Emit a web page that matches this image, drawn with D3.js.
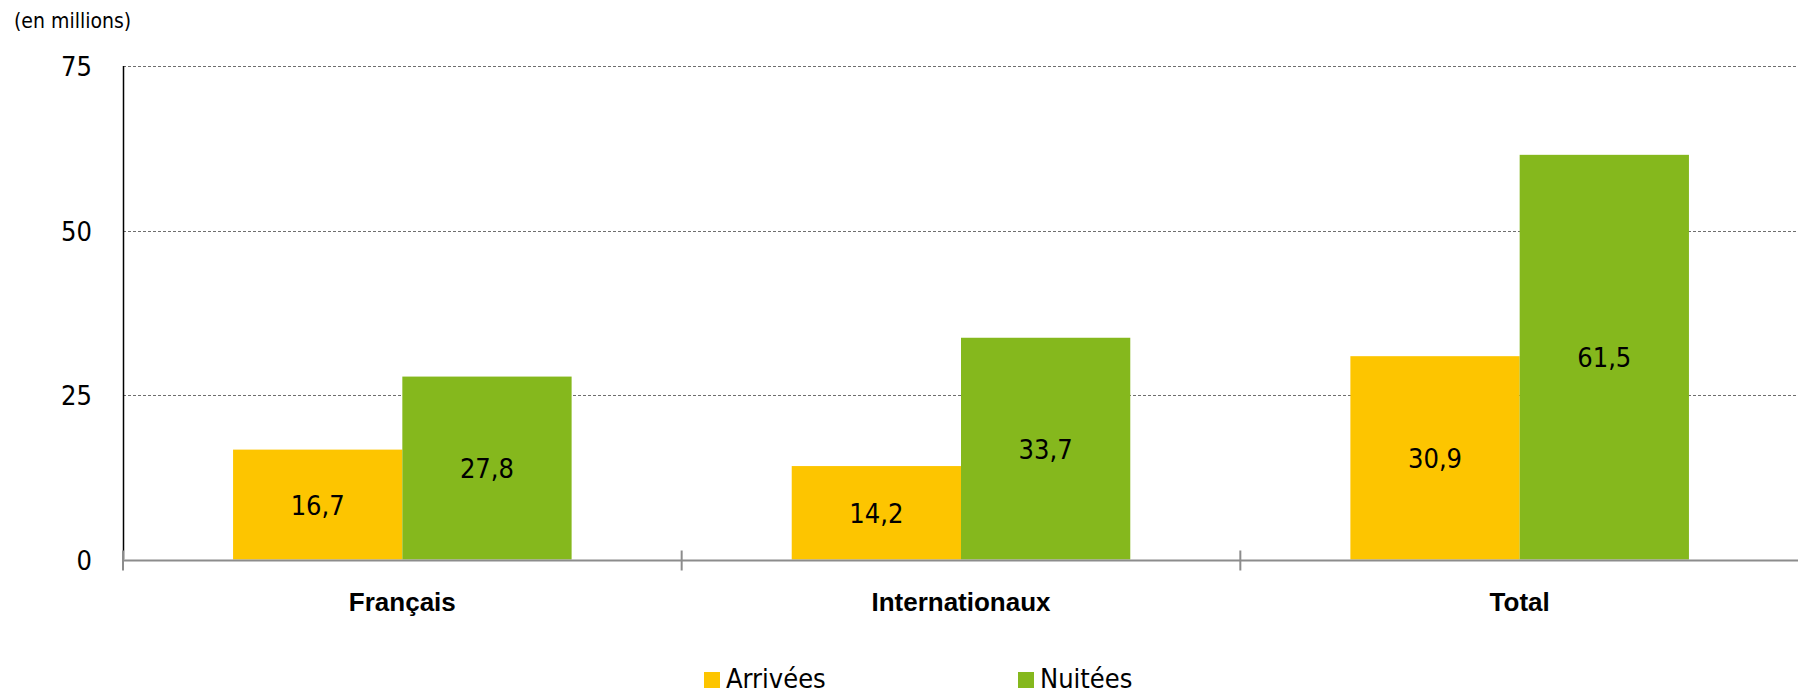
<!DOCTYPE html>
<html>
<head>
<meta charset="utf-8">
<script src="https://cdn.jsdelivr.net/npm/d3@7"></script>
<style>
  html, body { margin: 0; padding: 0; background: #fff; }
  svg { display: block; }
  text { fill: #000; }
</style>
</head>
<body>
<svg id="chart" width="1798" height="689"></svg>
<script>
const categories = ["Français", "Internationaux", "Total"];
const seriesNames = ["Arrivées", "Nuitées"];
const arrivees = [16.7, 14.2, 30.9];
const nuitees = [27.8, 33.7, 61.5];
const yTicks = [0, 25, 50, 75];
const unitLabel = "(en millions)";
const colors = ["#FDC500", "#85B81D"];

const W = 1798, H = 689;
const margin = { left: 123, right: -1, top: 66, bottom: 129 };
const svg = d3.select("#chart");
const baseFont = '"DejaVu Sans Condensed", "DejaVu Sans", sans-serif';
const catFont = '"Liberation Sans", Arial, sans-serif';

const x0 = d3.scaleBand().domain(categories).range([margin.left, W - margin.right]).paddingInner(0).paddingOuter(0);
const bw = x0.bandwidth();
const x1 = d3.scaleBand().domain(seriesNames).range([bw * 0.197, bw * 0.803]).padding(0);
const y = d3.scaleLinear().domain([0, 75]).range([H - margin.bottom - 0.5, margin.top]);

const fmt = v => d3.format(".1f")(v).replace(".", ",");

// gridlines
svg.append("g").selectAll("line").data(yTicks.filter(d => d > 0)).join("line")
  .attr("x1", margin.left).attr("x2", W)
  .attr("y1", d => Math.round(y(d)) + 0.5).attr("y2", d => Math.round(y(d)) + 0.5)
  .attr("stroke", "#6e6e6e").attr("stroke-width", 1).attr("stroke-dasharray", "3,2");

// y-axis tick labels
const yAxis = d3.axisLeft(y).tickValues(yTicks).tickSize(0).tickPadding(0).tickFormat(d3.format("d"));
const gy = svg.append("g").attr("transform", `translate(92,0)`).call(yAxis);
gy.select(".domain").remove();
gy.selectAll("text").attr("dy", null).attr("dominant-baseline", "central")
  .style("font-family", baseFont).style("font-size", "27px").attr("fill", "#000");

// bars
const data = categories.map((c, i) => ({ cat: c, vals: [arrivees[i], nuitees[i]] }));
const groups = svg.append("g").selectAll("g").data(data).join("g")
  .attr("transform", d => `translate(${x0(d.cat)},0)`);
groups.selectAll("rect").data(d => d.vals.map((v, j) => ({ v, s: seriesNames[j], j }))).join("rect")
  .attr("x", d => x1(d.s)).attr("width", x1.bandwidth())
  .attr("y", d => y(d.v)).attr("height", d => y(0) - y(d.v))
  .attr("fill", d => colors[d.j]);
groups.selectAll("text.val").data(d => d.vals.map((v, j) => ({ v, s: seriesNames[j], j }))).join("text")
  .attr("class", "val")
  .attr("x", d => x1(d.s) + x1.bandwidth() / 2)
  .attr("y", d => (y(d.v) + y(0)) / 2 + 10)
  .attr("text-anchor", "middle")
  .style("font-family", baseFont).style("font-size", "27px")
  .text(d => fmt(d.v));

// y axis line
svg.append("line").attr("x1", margin.left + 0.5).attr("x2", margin.left + 0.5)
  .attr("y1", y(75)).attr("y2", y(0)).attr("stroke", "#000").attr("stroke-width", 1.5);

// x axis
const xAxisY = y(0) + 1;
svg.append("line").attr("x1", margin.left).attr("x2", W).attr("y1", xAxisY).attr("y2", xAxisY)
  .attr("stroke", "#8c8c8c").attr("stroke-width", 2);
const boundaries = categories.map(c => x0(c)).concat([x0(categories[categories.length - 1]) + bw]);
svg.append("g").selectAll("line").data(boundaries).join("line")
  .attr("x1", d => d).attr("x2", d => d).attr("y1", xAxisY - 10).attr("y2", xAxisY + 10)
  .attr("stroke", "#8c8c8c").attr("stroke-width", 2);

// category labels
svg.append("g").selectAll("text").data(categories).join("text")
  .attr("x", d => x0(d) + bw / 2).attr("y", 611)
  .attr("text-anchor", "middle")
  .style("font-family", catFont).style("font-size", "26px").style("font-weight", "bold")
  .text(d => d);

// unit label
svg.append("text").attr("x", 14).attr("y", 28)
  .style("font-family", baseFont).style("font-size", "21px").text(unitLabel);

// legend
const legendX = [704, 1018];
const lg = svg.append("g").selectAll("g").data(seriesNames).join("g")
  .attr("transform", (d, i) => `translate(${legendX[i]},0)`);
lg.append("rect").attr("x", 0).attr("y", 672).attr("width", 16).attr("height", 16).attr("fill", (d, i) => colors[i]);
lg.append("text").attr("x", 22).attr("y", 688)
  .style("font-family", baseFont).style("font-size", "27px").text(d => d);
</script>
</body>
</html>
